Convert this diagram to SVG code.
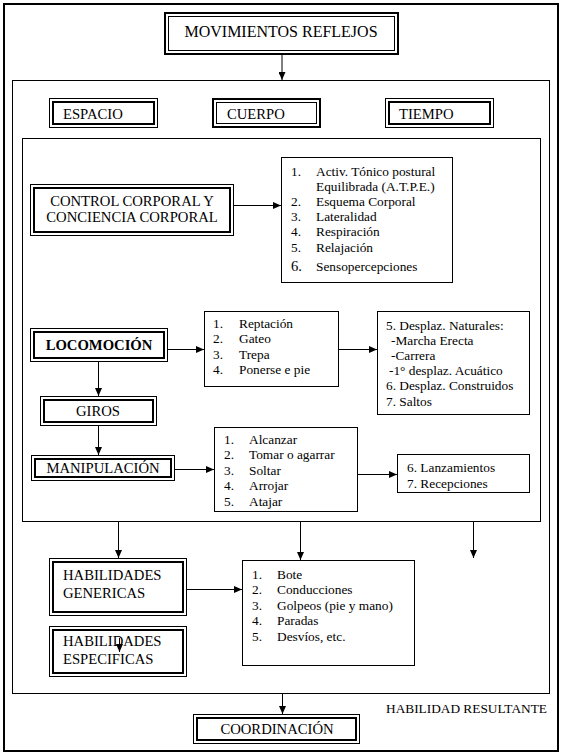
<svg xmlns="http://www.w3.org/2000/svg" width="563" height="756" viewBox="0 0 563 756">
<defs>
<marker id="ah" markerUnits="userSpaceOnUse" markerWidth="8" markerHeight="7" viewBox="0 0 8 7" refX="8" refY="3.5" orient="auto">
<path d="M0,0 L8,3.5 L0,7 z" fill="#000"/>
</marker>
</defs>
<style>
text{font-family:"Liberation Serif","Times New Roman",serif;fill:#000}
.t{font-size:14.67px}
.l{font-size:13.33px}
.c{text-anchor:middle}
.s1{fill:none;stroke:#000;stroke-width:1}
.s2{fill:none;stroke:#000;stroke-width:2}
.box{fill:#fff;stroke:#000;stroke-width:1}
.cn{fill:none;stroke:#000;stroke-width:1;marker-end:url(#ah)}
</style>
<rect x="0" y="0" width="563" height="756" fill="#fff"/>
<rect x="4" y="4" width="554" height="747" class="s2"/>
<rect x="12.5" y="80.5" width="537" height="613" class="s1"/>
<rect x="22.5" y="138.5" width="518" height="383" class="s1"/>

<g id="movimientos">
<rect x="165" y="13" width="233" height="41" class="s2"/>
<rect x="168.5" y="16.5" width="226" height="34" class="s1"/>
<text x="281" y="37" class="c" font-size="16">MOVIMIENTOS REFLEJOS</text>
</g>
<g id="espacio">
<rect x="49.5" y="98.5" width="108" height="29" class="s1"/>
<rect x="53" y="102" width="101" height="22" class="s2"/>
<text x="63" y="119" class="t">ESPACIO</text>
</g>
<g id="cuerpo">
<rect x="213" y="99" width="107" height="28" class="s2"/>
<rect x="216.5" y="102.5" width="100" height="21" class="s1"/>
<text x="227" y="119" class="t">CUERPO</text>
</g>
<g id="tiempo">
<rect x="385.5" y="98.5" width="108" height="29" class="s1"/>
<rect x="389" y="102" width="101" height="22" class="s2"/>
<text x="399" y="119" class="t">TIEMPO</text>
</g>

<g id="control">
<rect x="30.5" y="184.5" width="203" height="51" class="s1"/>
<rect x="34" y="188" width="196" height="44" class="s2"/>
<text x="132" y="206" class="t c">CONTROL CORPORAL Y</text>
<text x="132" y="222" class="t c">CONCIENCIA CORPORAL</text>
</g>
<g id="lista1">
<rect x="281.5" y="157.5" width="171" height="125" class="box"/>
<text x="291" y="176" class="l">1.</text><text x="316" y="176" class="l">Activ. Tónico postural</text>
<text x="316" y="191" class="l">Equilibrada (A.T.P.E.)</text>
<text x="291" y="206" class="l">2.</text><text x="316" y="206" class="l">Esquema Corporal</text>
<text x="291" y="221" class="l">3.</text><text x="316" y="221" class="l">Lateralidad</text>
<text x="291" y="236" class="l">4.</text><text x="316" y="236" class="l">Respiración</text>
<text x="291" y="251.5" class="l">5.</text><text x="316" y="251.5" class="l">Relajación</text>
<text x="291" y="271" class="t">6.</text><text x="316" y="271" class="l">Sensopercepciones</text>
</g>

<g id="locomocion">
<rect x="30.5" y="328.5" width="137" height="33" class="s1"/>
<rect x="34" y="332" width="130" height="26" class="s2"/>
<text x="99" y="350" class="t c" font-weight="bold">LOCOMOCIÓN</text>
</g>
<g id="lista2">
<rect x="204.5" y="311.5" width="134" height="75" class="box"/>
<text x="213" y="328" class="l">1.</text><text x="239" y="328" class="l">Reptación</text>
<text x="213" y="343.3" class="l">2.</text><text x="239" y="343.3" class="l">Gateo</text>
<text x="213" y="358.6" class="l">3.</text><text x="239" y="358.6" class="l">Trepa</text>
<text x="213" y="374" class="l">4.</text><text x="239" y="374" class="l">Ponerse e pie</text>
</g>
<g id="lista3">
<rect x="377.5" y="311.5" width="152" height="103" class="box"/>
<text x="386" y="329.5" class="l">5. Desplaz. Naturales:</text>
<text x="391" y="344.7" class="l">-Marcha Erecta</text>
<text x="391" y="359.9" class="l">-Carrera</text>
<text x="389" y="375.1" class="l">-1° desplaz. Acuático</text>
<text x="386" y="390.3" class="l">6. Desplaz. Construidos</text>
<text x="386" y="405.5" class="l">7. Saltos</text>
</g>

<g id="giros">
<rect x="40.5" y="396.5" width="116" height="29" class="s1"/>
<rect x="44" y="400" width="109" height="22" class="s2"/>
<text x="98" y="416" class="t c">GIROS</text>
</g>
<g id="manipulacion">
<rect x="31.5" y="455.5" width="143" height="25" class="s1"/>
<rect x="35" y="459" width="136" height="18" class="s2"/>
<text x="103" y="473" class="t c">MANIPULACIÓN</text>
</g>
<g id="lista4">
<rect x="214.5" y="427.5" width="143" height="84" class="box"/>
<text x="224" y="443.5" class="l">1.</text><text x="249" y="443.5" class="l">Alcanzar</text>
<text x="224" y="459" class="l">2.</text><text x="249" y="459" class="l">Tomar o agarrar</text>
<text x="224" y="474.5" class="l">3.</text><text x="249" y="474.5" class="l">Soltar</text>
<text x="224" y="490" class="l">4.</text><text x="249" y="490" class="l">Arrojar</text>
<text x="224" y="505.5" class="l">5.</text><text x="249" y="505.5" class="l">Atajar</text>
</g>
<g id="lista5">
<rect x="397.5" y="454.5" width="132" height="38" class="box"/>
<text x="407" y="471.5" class="l">6. Lanzamientos</text>
<text x="407" y="487.5" class="l">7. Recepciones</text>
</g>

<g id="hab-genericas">
<rect x="49.5" y="558.5" width="137" height="57" class="s1"/>
<rect x="53" y="562" width="130" height="50" class="s2"/>
<text x="63" y="580" class="t">HABILIDADES</text>
<text x="63" y="598" class="t">GENERICAS</text>
</g>
<g id="lista6">
<rect x="242.5" y="560.5" width="172" height="105" class="box"/>
<text x="252" y="578.5" class="l">1.</text><text x="277" y="578.5" class="l">Bote</text>
<text x="252" y="594" class="l">2.</text><text x="277" y="594" class="l">Conducciones</text>
<text x="252" y="609.5" class="l">3.</text><text x="277" y="609.5" class="l">Golpeos (pie y mano)</text>
<text x="252" y="625" class="l">4.</text><text x="277" y="625" class="l">Paradas</text>
<text x="252" y="640.5" class="l">5.</text><text x="277" y="640.5" class="l">Desvíos, etc.</text>
</g>
<g id="hab-especificas">
<rect x="49.5" y="626.5" width="137" height="50" class="s1"/>
<rect x="53" y="630" width="130" height="43" class="s2"/>
<text x="63" y="646" class="t">HABILIDADES</text>
<text x="63" y="664" class="t">ESPECIFICAS</text>
</g>

<g id="resultante">
<text x="386" y="712.5" class="l">HABILIDAD RESULTANTE</text>
</g>
<g id="coordinacion">
<rect x="193.5" y="714.5" width="166" height="29" class="s1"/>
<rect x="197" y="718" width="159" height="22" class="s2"/>
<text x="277" y="734" class="t c">COORDINACIÓN</text>
</g>

<g id="connectors">
<line x1="282" y1="55" x2="282" y2="80" class="cn"/>
<line x1="234" y1="205.5" x2="281" y2="205.5" class="cn"/>
<line x1="168" y1="349.5" x2="204" y2="349.5" class="cn"/>
<line x1="339" y1="349.5" x2="377" y2="349.5" class="cn"/>
<line x1="98.5" y1="362" x2="98.5" y2="396" class="cn"/>
<line x1="98.5" y1="426" x2="98.5" y2="455" class="cn"/>
<line x1="175" y1="469.5" x2="214" y2="469.5" class="cn"/>
<line x1="358" y1="474.5" x2="397" y2="474.5" class="cn"/>
<line x1="118.5" y1="522" x2="118.5" y2="558" class="cn"/>
<line x1="300.5" y1="522" x2="300.5" y2="560" class="cn"/>
<line x1="473.5" y1="522" x2="473.5" y2="558" class="cn"/>
<line x1="187" y1="589.5" x2="242" y2="589.5" class="cn"/>
<line x1="119.5" y1="638" x2="119.5" y2="652" class="cn"/>
<line x1="282.5" y1="694" x2="282.5" y2="714" class="cn"/>
</g>
</svg>
